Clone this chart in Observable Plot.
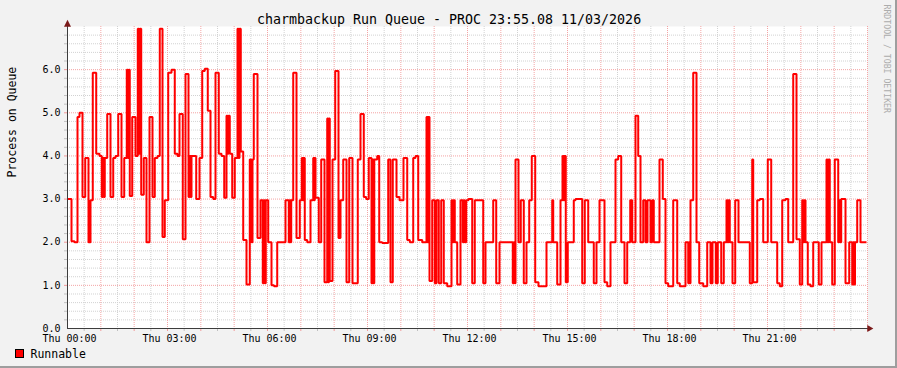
<!DOCTYPE html>
<html><head><meta charset="utf-8">
<script src="https://cdn.jsdelivr.net/npm/d3@7"></script>
<script src="https://cdn.jsdelivr.net/npm/@observablehq/plot@0.6"></script>
<style>
html,body{margin:0;padding:0;background:#f2f2f2;}
#chart{position:relative;width:897px;height:368px;overflow:hidden;}
#chart svg{display:block;}
</style></head><body><div id="chart"></div>
<script>
const title = "charmbackup Run Queue - PROC 23:55.08 11/03/2026";
const yLabel = "Process on Queue";
const seriesName = "Runnable";
const watermark = "RRDTOOL / TOBI OETIKER";
const xTickMinutes = [0, 180, 360, 540, 720, 900, 1080, 1260];
const xTickLabels = ["Thu 00:00","Thu 03:00","Thu 06:00","Thu 09:00","Thu 12:00","Thu 15:00","Thu 18:00","Thu 21:00"];
const yTicks = [0, 1, 2, 3, 4, 5, 6];
const yTickLabels = ["0.0","1.0","2.0","3.0","4.0","5.0","6.0"];

// time of each step change, minutes after Thu 00:00
const minutes = [
0,7.2,12.6,18,21.6,27,31.9,37.8,41.4,45.5,
51.7,57.6,61.7,63.5,65.3,67.1,71.5,77.4,82.3,86.4,
91.3,97.2,102.1,106.7,108.5,110.3,112.1,116.5,122.4,126.5,
128.3,130.1,132.7,137.3,142.2,147.6,153,157.1,162,166.1,
171,175.1,181.3,187.2,193.1,198,201.6,207.5,212.4,217.8,
219.6,221.4,223.2,231.7,237.6,242.5,247.1,252.5,257.4,262.3,
266.4,272.3,277.2,282.1,286.2,288,289.8,292.1,296.5,301.1,
306,307.8,309.6,311.9,316.3,322.2,328.1,331.2,333,335.3,
342,347.4,351.5,353.3,355.1,356.9,361.3,367.2,371.7,377.5,
392.4,398.3,400.1,401.4,402.7,406.3,412.2,418.1,421.7,423.5,
425.3,427.1,431.5,437.4,442.3,444.1,445.1,446.4,452.3,456.7,
462.6,467.5,469.3,470.7,472.1,477,481.9,487.8,491.4,496.3,
502.2,507.1,513,522.5,527.4,533.3,537.7,542.3,547.2,549,
550.8,552.2,557.5,561.1,566.5,577.3,581.4,585.5,592.2,597.6,
604.8,611.5,616.1,622.3,626.4,631.3,638.5,646.2,648,649.8,
651.6,656.5,661.1,664.2,668.3,672.7,677.3,683.5,691.2,693,
694.8,697.1,701.5,707.4,711.5,713.3,715.1,717.7,721.8,728.5,
733.1,748.3,752.4,766.3,771.7,777.6,801.5,803.3,805.1,806.4,
811.8,815.9,821.3,826.2,831.1,835.7,841.9,847.8,862.2,872.5,
874.3,881.5,887.4,891,892.8,894.6,896.9,900.5,911.3,914.4,
926.5,931.1,937.3,947.3,952.2,957.6,966.6,971.5,977.4,986.4,
991.3,996.7,1002.6,1007.5,1012.9,1016.5,1022.4,1027.3,1031.4,1036.3,
1040.4,1044,1049.4,1052.5,1055.3,1065.6,1071.5,1076.4,1081.3,1090.3,
1097.5,1102.1,1112.4,1117.3,1119.1,1120.5,1121.4,1126.3,1132.2,1137.1,
1144.3,1151.5,1157.4,1161,1166.9,1170.5,1176.7,1181.3,1186.2,1188,
1189.8,1192.1,1197,1201.9,1207.8,1228.1,1232.5,1234.3,1241.5,1246.1,
1252.3,1260.5,1266.7,1277.5,1282.1,1286.5,1292.4,1297.3,1306.3,1312.2,
1318.1,1322.5,1324.3,1326.1,1328.4,1332.5,1337.4,1342.3,1352.3,1357.2,
1366.2,1368,1369.8,1372.1,1376.5,1381.1,1387.3,1389.1,1390.9,1392.7,
1400.4,1407.1,1412.5,1414.3,1416.1,1417.5,1421.5,1427.4,1438.2
];
// Runnable processes on queue
const runnable = [
3.0,2.02,2.0,4.9,5.0,3.05,3.95,2.0,2.97,5.93,
4.05,4.0,3.05,3.95,3.05,3.95,4.97,3.05,3.95,4.0,
4.97,3.05,3.95,6.0,3.95,6.0,3.07,4.9,4.0,6.95,
4.05,6.95,3.1,3.95,2.0,4.9,3.05,3.95,4.0,6.95,
2.12,2.97,5.93,6.0,4.05,4.0,4.97,2.07,5.9,3.05,
4.0,3.05,4.0,3.0,3.95,5.97,6.02,5.05,3.05,3.0,
5.93,4.05,4.0,3.03,4.93,4.05,4.93,4.05,3.03,3.95,
6.95,3.95,6.95,4.1,2.05,1.02,3.92,2.0,3.92,5.9,
2.1,2.97,1.05,2.97,1.05,2.97,2.0,1.0,0.98,2.0,
2.97,2.0,2.97,2.0,2.97,5.93,2.1,2.97,3.95,2.97,
3.95,2.05,2.0,2.97,3.95,2.97,3.95,3.03,2.0,3.92,
1.07,4.87,1.07,4.87,1.1,3.92,5.97,2.1,2.97,3.92,
1.07,3.95,1.05,3.92,4.97,3.05,3.0,3.95,1.05,3.92,
1.05,3.92,4.0,2.0,1.98,3.92,1.07,3.92,3.05,2.97,
3.95,2.05,2.0,3.95,4.0,2.05,2.0,4.9,2.0,4.9,
1.1,2.97,1.05,2.97,1.05,2.97,1.05,0.98,2.97,2.0,
2.97,2.0,1.02,2.97,2.0,2.97,2.0,2.97,3.0,1.05,
2.97,1.05,2.0,2.97,1.05,2.0,1.05,2.0,1.05,3.92,
2.0,2.97,1.05,2.0,2.97,4.0,1.07,0.98,2.0,2.97,
2.0,1.02,2.97,4.0,2.97,4.0,1.07,2.0,2.97,3.0,
1.05,2.97,2.0,1.05,2.0,2.97,1.07,0.98,2.0,3.92,
4.0,2.0,1.05,2.0,2.97,2.0,4.93,4.0,2.0,2.97,
2.0,2.97,2.0,2.97,2.0,3.92,3.0,1.05,0.98,2.97,
1.05,0.98,2.0,1.05,2.0,1.05,2.97,5.93,2.0,1.05,
0.98,2.0,1.05,2.0,1.05,2.0,1.05,2.0,2.97,2.0,
2.97,2.0,1.05,2.97,2.0,1.05,3.92,1.07,2.97,3.0,
2.0,3.92,2.0,1.05,0.98,2.97,3.0,2.0,5.9,2.07,
1.02,2.97,2.0,2.97,2.0,1.02,0.98,2.0,1.02,2.0,
3.92,2.0,3.92,2.0,1.02,3.92,2.0,2.97,2.0,3.0,
1.05,2.0,1.02,2.0,1.02,2.0,2.97,2.0,2.0
];

const data = minutes.map((m, i) => ({m, v: runnable[i]}));
const halfHours = d3.range(30, 1440, 60);
const hours = d3.range(60, 1441, 60);
const yMinor = d3.range(1, 35).filter(i => i % 5 !== 0).map(i => i / 5);
const yMajor = [1, 2, 3, 4, 5, 6];
const mono = "'DejaVu Sans Mono', monospace";

const chart = Plot.plot({
  width: 897, height: 368,
  marginTop: 26, marginRight: 30, marginBottom: 40, marginLeft: 67,
  x: {type: "linear", domain: [0, 1440], axis: null},
  y: {type: "linear", domain: [0, 7], axis: null},
  style: {background: "transparent", fontFamily: mono, fontSize: "10px", color: "#000", overflow: "visible"},
  marks: [
    Plot.frame({fill: "#ffffff", stroke: "none"}),
    Plot.ruleX(halfHours, {stroke: "#d2d2d2", strokeDasharray: "1,1"}),
    Plot.ruleY(yMinor, {stroke: "#d2d2d2", strokeDasharray: "1,1"}),
    Plot.ruleX(hours, {stroke: "#f4a4a4", strokeDasharray: "1,1"}),
    Plot.ruleY(yMajor, {stroke: "#f4a4a4", strokeDasharray: "1,1"}),
    Plot.axisX({ticks: halfHours, tickSize: 3, tickFormat: () => "", stroke: "#c0c0c0", anchor: "bottom", label: null}),
    Plot.axisX({ticks: hours, tickSize: 3, tickFormat: () => "", stroke: "#f29a9a", anchor: "bottom", label: null}),
    Plot.axisY({ticks: yMinor, tickSize: 3, tickFormat: () => "", stroke: "#c0c0c0", anchor: "left", label: null}),
    Plot.axisY({ticks: yMajor, tickSize: 3, tickFormat: () => "", stroke: "#f29a9a", anchor: "left", label: null}),
    Plot.line(data, {x: "m", y: "v", curve: "step-after", stroke: "#ff0000", strokeWidth: 2, strokeLinejoin: "miter", strokeLinecap: "butt"}),
    Plot.ruleY([0], {x1: 0, x2: 1446, stroke: "#3c3c3c"}),
    Plot.ruleX([0], {y1: 0, y2: 7.1, stroke: "#3c3c3c"}),
    Plot.axisY({ticks: yTicks, tickFormat: d => yTickLabels[yTicks.indexOf(d)], tickSize: 0, tickPadding: 7, anchor: "left", label: null, fontSize: 10, fill: "#000"}),
    Plot.axisX({ticks: xTickMinutes, tickFormat: d => xTickLabels[xTickMinutes.indexOf(d)], tickSize: 0, tickPadding: 6, dx: 2, anchor: "bottom", label: null, fontSize: 10, fill: "#000"}),
    Plot.text([title], {text: d => d, frameAnchor: "top", dx: -18.5, dy: -6.5, lineAnchor: "middle", fontSize: 13.3, fill: "#000"}),
    Plot.text([yLabel], {text: d => d, frameAnchor: "left", dx: -55, rotate: -90, lineAnchor: "middle", fontSize: 11.5, fill: "#000"}),
    Plot.text([seriesName], {text: d => d, frameAnchor: "bottom-left", dx: -37, dy: 25.5, textAnchor: "start", lineAnchor: "middle", fontSize: 11.5, fill: "#000"}),
    Plot.text([watermark], {text: d => d, frameAnchor: "top-right", dx: 19, dy: -22, rotate: 90, textAnchor: "start", lineAnchor: "middle", fontSize: 8.2, fill: "#acacac"})
  ]
});

document.getElementById("chart").appendChild(chart);

// decorations: axis arrows, legend swatch, frame shading
const svg = d3.select(chart);
const xs = chart.scale("x"), ys = chart.scale("y");
const x0 = xs.apply(0), y0 = ys.apply(0);
const xEnd = xs.apply(1446), yTop = ys.apply(7.1);
svg.append("polygon")
  .attr("points", `${x0 + 0.5},${yTop - 2} ${x0 - 3},${yTop + 5} ${x0 + 4},${yTop + 5}`)
  .attr("fill", "#7a1a1a");
svg.append("polygon")
  .attr("points", `${xEnd + 3},${y0 + 0.5} ${xEnd - 3},${y0 - 3} ${xEnd - 3},${y0 + 4}`)
  .attr("fill", "#7a1a1a");
svg.append("rect")
  .attr("x", 15.5).attr("y", 349.5).attr("width", 8).attr("height", 8)
  .attr("fill", "#ff0000").attr("stroke", "#000").attr("stroke-width", 1);
svg.append("rect").attr("x", 895).attr("y", 0).attr("width", 2).attr("height", 368).attr("fill", "#9e9e9e");
svg.append("rect").attr("x", 0).attr("y", 366).attr("width", 897).attr("height", 2).attr("fill", "#9e9e9e");
</script>
</body></html>
